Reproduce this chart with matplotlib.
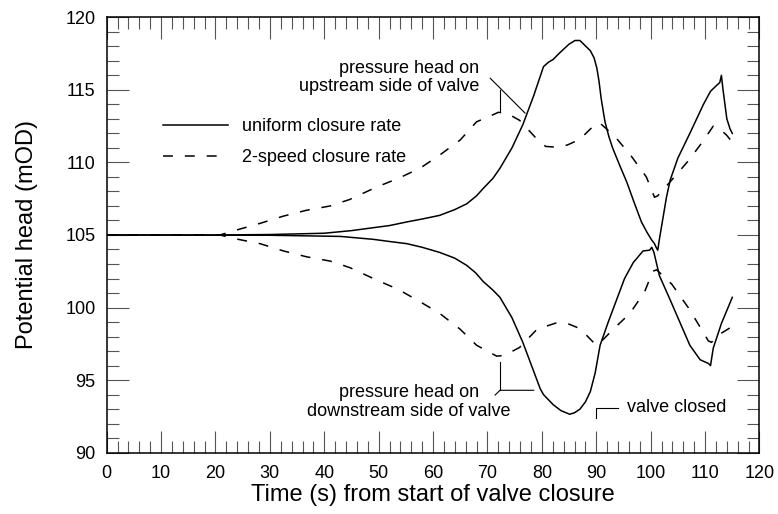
import matplotlib
matplotlib.use("Agg")
import matplotlib.pyplot as plt
from matplotlib.ticker import MultipleLocator

plt.rcParams['font.family'] = ['Liberation Sans', 'DejaVu Sans']

# uniform closure rate - upstream / downstream heads (mOD)
t_up_uni = [0, 20, 30, 40, 45, 49, 52, 55.2, 58, 61.2, 64, 66.2, 68, 69.2, 71, 72.3, 74.5,
            76.5, 78.5, 80.3, 81.2, 82.1, 83, 84, 85, 86.1, 87, 87.8, 88.9, 89.6, 90.1,
            90.5, 90.9, 91.6, 92.3, 93, 94.3, 95.6, 97, 98.3, 99.3, 100.1, 100.7, 101.0,
            101.3, 101.6, 102.9, 103.6, 105, 107.2, 109.7, 111, 112.1, 112.7, 113.0,
            113.3, 114.0, 114.6, 115.0]
h_up_uni = [105.0, 105.0, 105.03, 105.12, 105.3, 105.5, 105.65, 105.9, 106.1, 106.35,
            106.75, 107.15, 107.7, 108.2, 108.9, 109.6, 111.0, 112.6, 114.6, 116.6, 116.9,
            117.1, 117.45, 117.8, 118.15, 118.4, 118.4, 118.1, 117.7, 117.2, 116.5, 115.6,
            114.4, 112.8, 111.8, 111.0, 109.8, 108.65, 107.2, 105.9, 105.2, 104.7, 104.4,
            104.15, 103.95, 104.7, 107.6, 108.8, 110.3, 112.0, 114.0, 114.9, 115.3, 115.5,
            116.0, 115.0, 113.0, 112.3, 112.0]

t_dn_uni = [0, 30, 40, 43, 49, 52, 55.2, 58, 61.2, 64, 66.2, 67.8, 69.2, 71, 72.3, 74.5,
            76.5, 78.5, 79.7, 80.3, 82.1, 83.5, 85.1, 86, 87, 88, 88.9, 89.8, 90.7, 92.2,
            93.7, 95.2, 96.8, 98.6, 99.8, 100.2, 100.6, 101.6, 103.5, 107.2, 109.1, 110.6,
            111.0, 111.5, 113, 115.0]
h_dn_uni = [105.0, 104.98, 104.92, 104.9, 104.7, 104.55, 104.4, 104.15, 103.8, 103.4,
            102.9, 102.4, 101.8, 101.2, 100.7, 99.3, 97.6, 95.6, 94.4, 94.0, 93.3, 92.9,
            92.65, 92.75, 93.0, 93.5, 94.2, 95.5, 97.4, 99.0, 100.5, 102.0, 103.1, 103.9,
            103.95, 104.15, 103.8, 102.2, 100.6, 97.4, 96.4, 96.15, 96.0, 97.2, 98.9, 100.7]

# 2-speed closure rate
t_up_2sp = [0, 20.8, 23.5, 28.2, 32.5, 36.7, 41.1, 44.7, 49.6, 53.6, 57.6, 61.2, 65, 68,
            70.5, 72, 73.5, 75.9, 79.1, 80.7, 82.7, 84.7, 87, 90, 90.7, 91.3, 93.4, 96.5,
            99.2, 100.7, 101.3, 103.9, 106.9, 109.5, 111.5, 112.4, 113.9, 115]
h_up_2sp = [105.0, 105.0, 105.3, 105.8, 106.3, 106.7, 107.0, 107.45, 108.3, 108.9, 109.6,
            110.5, 111.55, 112.8, 113.2, 113.45, 113.4, 112.9, 111.6, 111.1, 111.05, 111.2,
            111.6, 112.7, 112.7, 112.5, 111.8, 110.4, 109.0, 107.6, 107.7, 108.8, 110.1,
            111.4, 112.5, 112.4, 111.9, 111.4]

t_dn_2sp = [0, 20.8, 23.5, 28.2, 32.5, 36.7, 41.1, 44.7, 49.6, 53.6, 57.6, 61.2, 65, 68,
            71.7, 73.1, 75.9, 79.1, 82.7, 84.7, 87, 90, 90.5, 93.1, 96.2, 98.9, 100.4,
            101.1, 103.9, 106.9, 109.5, 110.6, 111.2, 112, 115]
h_dn_2sp = [105.0, 105.0, 104.75, 104.4, 103.9, 103.5, 103.2, 102.75, 101.9, 101.25,
            100.4, 99.6, 98.5, 97.4, 96.65, 96.7, 97.25, 98.5, 98.95, 98.9, 98.55, 97.4,
            97.5, 98.5, 99.6, 101.1, 102.5, 102.6, 101.6, 100.0, 98.4, 97.7, 97.6, 98.0, 98.7]

valve_closed_t = 90

FS = 13
fig = plt.figure(figsize=(7.78, 5.14), dpi=100)
ax = fig.add_axes([0.1371, 0.1193, 0.8391, 0.8471])

dash = (6.5, 7.8)
ax.plot(t_up_uni, h_up_uni, color="black", lw=1.1, label="uniform closure rate")
ax.plot(t_dn_uni, h_dn_uni, color="black", lw=1.1)
ax.plot(t_up_2sp, h_up_2sp, color="black", lw=1.1, dashes=dash, label="2-speed closure rate")
ax.plot(t_dn_2sp, h_dn_2sp, color="black", lw=1.1, dashes=dash)

ax.set_xlim(0, 120)
ax.set_ylim(90, 120)
ax.xaxis.set_major_locator(MultipleLocator(10))
ax.xaxis.set_minor_locator(MultipleLocator(2))
ax.yaxis.set_major_locator(MultipleLocator(5))
ax.yaxis.set_minor_locator(MultipleLocator(1))
ax.tick_params(which="both", direction="in", top=True, right=True, color="#555", width=0.8)
ax.tick_params(which="major", length=16)
ax.tick_params(which="minor", length=8.5)
ax.tick_params(axis="x", which="major", labelsize=FS, pad=9)
ax.tick_params(axis="y", which="major", labelsize=FS, pad=8)
for s in ax.spines.values():
    s.set_linewidth(1.1)

ax.set_xlabel("Time (s) from start of valve closure", fontsize=17, labelpad=1)
ax.set_ylabel("Potential head (mOD)", fontsize=17, labelpad=20)

ax.legend(loc="upper left", bbox_to_anchor=(0.086, 0.768), frameon=False, fontsize=FS,
          borderpad=0, borderaxespad=0, handlelength=3.6, handletextpad=0.8,
          labelspacing=0.75)

# annotations
lk = dict(color="black", lw=0.8)
ax.text(68.5, 115.85, "pressure head on\nupstream side of valve", ha="right", va="center",
        multialignment="right", fontsize=FS, linespacing=1.15)
ax.plot([70.5, 76.9], [115.8, 113.4], **lk)
ax.plot([72.3, 72.3], [115.0, 113.5], **lk)

ax.text(55.6, 93.5, "pressure head on\ndownstream side of valve", ha="center", va="center",
        multialignment="center", fontsize=FS, linespacing=1.15)
ax.plot([71.4, 72.3, 78.5], [93.97, 94.3, 94.3], **lk)
ax.plot([72.3, 72.3], [94.3, 96.25], **lk)

ax.plot([valve_closed_t, valve_closed_t, valve_closed_t + 4], [92.4, 93.1, 93.1], **lk)
ax.text(valve_closed_t + 5.6, 93.1, "valve closed", ha="left", va="center", fontsize=FS)

fig.savefig("out.png", dpi=100)
